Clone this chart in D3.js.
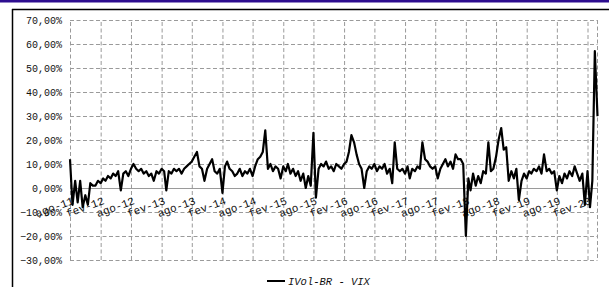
<!DOCTYPE html>
<html>
<head>
<meta charset="utf-8">
<script src="https://cdn.jsdelivr.net/npm/d3@7"></script>
<style>
  html, body { margin: 0; padding: 0; background: #fff; }
  svg { display: block; font-family: "Liberation Mono", "Courier New", monospace; }
</style>
</head>
<body>
<div id="main"></div>
<script>
// IVol-BR - VIX, semi-monthly readings (1st and 16th of each month), in %
const v2011 = [12, -7, 3, -6, 3, -8, -3, -7, 2, 1];                     // from Aug
const v2012 = [1, 3, 2, 4, 3, 5, 4, 6, 5, 7, -1, 6, 7, 5, 8, 10, 8, 7, 8, 6, 7, 5, 6, 3];
const v2013 = [7, 6, 8, 7, -1, 7, 6, 8, 7, 8, 6, 8, 9, 10, 11, 13, 15, 9, 8, 3, 8, 10, 12, 7];
const v2014 = [6, 8, -2, 9, 11, 8, 7, 5, 6, 8, 5, 7, 6, 8, 5, 9, 12, 13, 15, 24, 8, 10, 7, 9];
const v2015 = [8, 4, 9, 7, 10, 6, 8, 5, 7, 3, 6, 0, 5, 1, 23, -4, 8, 10, 9, 11, 8, 9, 7, 10];
const v2016 = [9, 8, 10, 11, 15, 22, 19, 14, 10, 8, 0, 7, 9, 8, 10, 7, 9, 8, 10, 6, 8, 2, 19, 8];
const v2017 = [7, 8, 6, 9, 4, 8, 7, 9, 8, 19, 12, 11, 9, 8, 9, 4, 8, 10, 12, 9, 11, 8, 14, 12];
const v2018 = [12, 10, -20, 4, -1, 6, 1, 5, 2, 7, 6, 19, 7, 8, 13, 20, 25, 16, 17, 3, 7, 4, 8, -5];
const v2019 = [3, 6, 4, 7, 6, 8, 7, 9, 6, 14, 7, 8, 6, 7, -1, 5, 2, 6, 4, 7, 5, 9, 6, 3];
const v2020 = [6, -7, 7, -8, 3, 57, 30];                                  // to Apr 1

const yTicks = [-30, -20, -10, 0, 10, 20, 30, 40, 50, 60, 70];
const seriesName = "IVol-BR - VIX";

const ptTime = d3.timeFormatLocale({
  dateTime: "%d/%m/%Y %H:%M:%S", date: "%d/%m/%Y", time: "%H:%M:%S",
  periods: ["AM", "PM"],
  days: ["domingo", "segunda", "terça", "quarta", "quinta", "sexta", "sábado"],
  shortDays: ["dom", "seg", "ter", "qua", "qui", "sex", "sáb"],
  months: ["janeiro", "fevereiro", "março", "abril", "maio", "junho", "julho", "agosto", "setembro", "outubro", "novembro", "dezembro"],
  shortMonths: ["jan", "fev", "mar", "abr", "mai", "jun", "jul", "ago", "set", "out", "nov", "dez"]
});
const ptNum = d3.formatLocale({ decimal: ",", thousands: ".", grouping: [3], currency: ["R$", ""] });

const yearData = function (year, firstMonth, values) {
  return values.map(function (v, i) {
    return { date: new Date(year, firstMonth + Math.floor(i / 2), i % 2 ? 16 : 1), value: v };
  });
};
const data = [].concat(
  yearData(2011, 7, v2011), yearData(2012, 0, v2012), yearData(2013, 0, v2013),
  yearData(2014, 0, v2014), yearData(2015, 0, v2015), yearData(2016, 0, v2016),
  yearData(2017, 0, v2017), yearData(2018, 0, v2018), yearData(2019, 0, v2019),
  yearData(2020, 0, v2020)
);

const width = 609, height = 287;
const plotLeft = 70, plotRight = 597.5, plotTop = 20, plotBottom = 260;

const svg = d3.select("#main").append("svg")
  .attr("width", width)
  .attr("height", height);

// frame
svg.append("rect").attr("x", 0).attr("y", 0).attr("width", width).attr("height", 2.5).attr("fill", "#2d0d8f");
svg.append("line").attr("x1", 12).attr("x2", width).attr("y1", 9.5).attr("y2", 9.5)
  .attr("stroke", "#000").attr("stroke-width", 1.5);
svg.append("line").attr("x1", 12.5).attr("x2", 12.5).attr("y1", 9).attr("y2", height)
  .attr("stroke", "#000").attr("stroke-width", 1.5);

const x = d3.scaleTime()
  .domain(d3.extent(data, d => d.date))
  .range([plotLeft, plotRight]);
const y = d3.scaleLinear()
  .domain([-30, 70])
  .range([plotBottom, plotTop]);

// ago-11, fev-12, ... fev-20
const xTicks = d3.timeMonth.range(new Date(2011, 7, 1), new Date(2020, 2, 1), 6);
const gridColor = "#9a9a9a";

// horizontal grid + y labels
const yAxis = svg.append("g")
  .attr("transform", "translate(" + plotLeft + ",0)")
  .call(d3.axisLeft(y)
    .tickValues(yTicks)
    .tickSize(-(plotRight - plotLeft))
    .tickPadding(8)
    .tickFormat(d => ptNum.format(".2f")(d) + "%"));
yAxis.select(".domain").remove();
yAxis.selectAll(".tick line")
  .attr("stroke", gridColor)
  .attr("stroke-dasharray", "4,2.5");
yAxis.selectAll(".tick text")
  .attr("font-family", "Liberation Mono, Courier New, monospace")
  .attr("font-size", 10)
  .attr("fill", "#111");

// vertical grid
const xGrid = svg.append("g")
  .attr("transform", "translate(0," + plotBottom + ")")
  .call(d3.axisBottom(x).tickValues(xTicks).tickSize(-(plotBottom - plotTop)).tickFormat(""));
xGrid.select(".domain").remove();
xGrid.selectAll(".tick line")
  .attr("stroke", gridColor)
  .attr("stroke-dasharray", "4,2.5");

// right border of plot area
svg.append("line")
  .attr("x1", plotRight).attr("x2", plotRight).attr("y1", plotTop).attr("y2", plotBottom)
  .attr("stroke", gridColor).attr("stroke-dasharray", "4,2.5");

// zero line with rotated month labels
const xAxis = svg.append("g")
  .attr("transform", "translate(0," + y(0) + ")")
  .call(d3.axisBottom(x).tickValues(xTicks).tickSize(0).tickFormat(ptTime.format("%b-%y")));
xAxis.select(".domain").attr("stroke", gridColor).attr("stroke-width", 1);
xAxis.selectAll(".tick text")
  .attr("font-family", "Liberation Mono, Courier New, monospace")
  .attr("font-size", 11)
  .attr("fill", "#111")
  .attr("text-anchor", "end")
  .attr("y", 0)
  .attr("dy", "0.75em")
  .attr("transform", "translate(1,8) rotate(-20)");

// series
const line = d3.line()
  .x(d => x(d.date))
  .y(d => y(d.value));
svg.append("path")
  .datum(data)
  .attr("fill", "none")
  .attr("stroke", "#000")
  .attr("stroke-width", 2.2)
  .attr("stroke-linejoin", "round")
  .attr("d", line);

// legend
svg.append("line")
  .attr("x1", 267).attr("x2", 285).attr("y1", 281).attr("y2", 281)
  .attr("stroke", "#000").attr("stroke-width", 2);
svg.append("text")
  .attr("x", 288).attr("y", 281)
  .attr("dy", "0.35em")
  .attr("font-size", 10.5)
  .attr("font-style", "italic")
  .attr("fill", "#111")
  .text(seriesName);
</script>
</body>
</html>
